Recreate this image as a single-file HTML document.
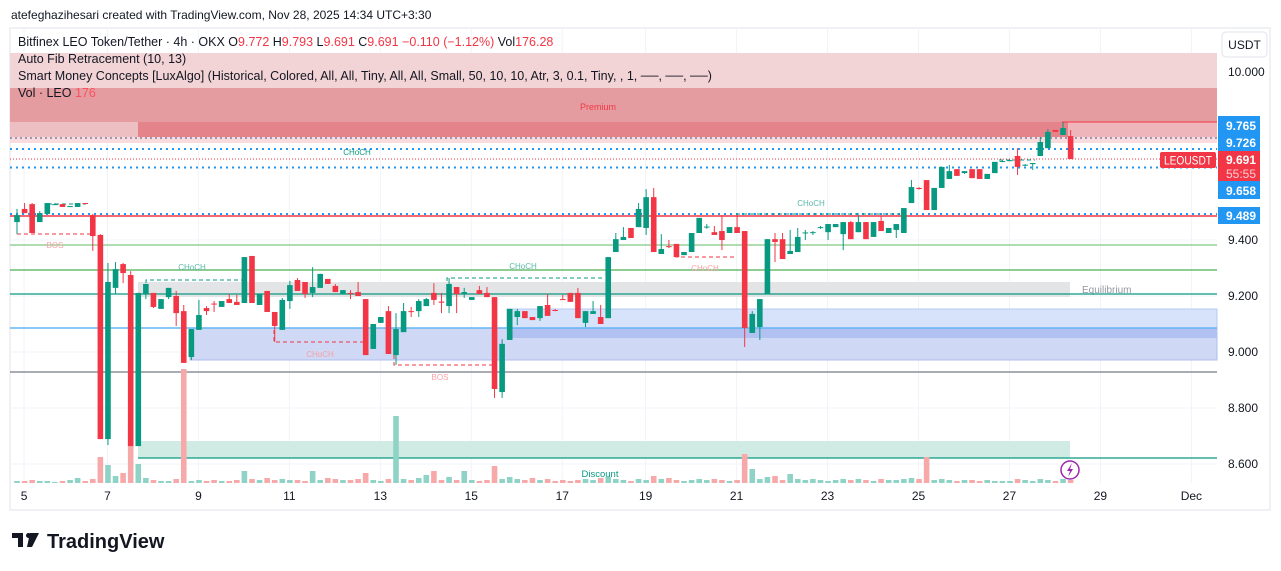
<!DOCTYPE html>
<html><head><meta charset="utf-8"><style>
html,body{margin:0;padding:0;background:#fff;}
svg{display:block;font-family:"Liberation Sans",sans-serif;}
</style></head><body>
<svg id="chart" width="1281" height="571" viewBox="0 0 1281 571" xmlns="http://www.w3.org/2000/svg">
<text x="11" y="19" font-size="12" fill="#131722">atefeghazihesari created with TradingView.com, Nov 28, 2025 14:34 UTC+3:30</text>
<rect x="10" y="28" width="1260" height="482" fill="#fff" stroke="#e0e3eb"/>
<g id="grid"></g>
<rect x="10" y="53" width="1207" height="35" fill="#f2d3d6"/>
<rect x="10" y="88" width="1207" height="34" fill="#e59ca0"/>
<rect x="10" y="122" width="128" height="15" fill="#eebfc2"/>
<rect x="138" y="122" width="930" height="15" fill="#e5838a"/>
<rect x="1068" y="122" width="149" height="15" fill="#eeb6ba"/>
<rect x="10" y="137" width="1207" height="6" fill="#f8dcde"/>
<text x="598" y="110" font-size="9" fill="#f23645" text-anchor="middle">Premium</text>
<line x1="1062" y1="122" x2="1217" y2="122" stroke="#f23645" stroke-width="1"/>
<rect x="138" y="282" width="932" height="15" fill="#e3e4e6"/>
<text x="1082" y="293" font-size="10" fill="#9598a1">Equilibrium</text>
<rect x="190" y="328" width="1027" height="32" fill="#cfd8f4" stroke="#aebdf0" stroke-width="1"/>
<rect x="507" y="309" width="710" height="19" fill="#d6e3fb" stroke="#b5c8f5"/>
<rect x="507" y="328" width="710" height="10" fill="#b1c1f1"/>
<rect x="138" y="441" width="932" height="17" fill="#d0ebe4"/>
<text x="600" y="477" font-size="9.5" fill="#089981" text-anchor="middle">Discount</text>
<line x1="10" y1="138" x2="1217" y2="138" stroke="#7b7fa8" stroke-width="1.5" stroke-dasharray="2 3"/>
<line x1="10" y1="149" x2="1217" y2="149" stroke="#2196f3" stroke-width="2" stroke-dasharray="2 4"/>
<line x1="10" y1="159" x2="1217" y2="159" stroke="#f23645" stroke-width="1" stroke-dasharray="1 2"/>
<line x1="10" y1="167.5" x2="1217" y2="167.5" stroke="#2196f3" stroke-width="2" stroke-dasharray="2 4"/>
<line x1="10" y1="214" x2="1217" y2="214" stroke="#2196f3" stroke-width="2" stroke-dasharray="2 4"/>
<line x1="10" y1="216" x2="1217" y2="216" stroke="#f23645" stroke-width="1.5"/>
<line x1="10" y1="245" x2="1217" y2="245" stroke="#81c784" stroke-width="1.2"/>
<line x1="10" y1="270" x2="1217" y2="270" stroke="#4caf50" stroke-width="1.2"/>
<line x1="10" y1="294" x2="1217" y2="294" stroke="#089981" stroke-width="1.2"/>
<line x1="10" y1="328" x2="1217" y2="328" stroke="#64b5f6" stroke-width="1.5"/>
<line x1="10" y1="372" x2="1217" y2="372" stroke="#787b86" stroke-width="1.2"/>
<line x1="138" y1="458" x2="1217" y2="458" stroke="#089981" stroke-width="1.2"/>
<g font-size="8" text-anchor="middle">
<polyline points="17,234 93,234" fill="none" stroke="#f23645" stroke-dasharray="4 3"/>
<text x="55" y="248" fill="#f7a1a7">BOS</text>
<polyline points="146,290 146,280 244,280" fill="none" stroke="#089981" stroke-dasharray="4 3"/>
<text x="192" y="270" fill="#5bb8a8">CHoCH</text>
<polyline points="274,330 274,342 364,342" fill="none" stroke="#f23645" stroke-dasharray="4 3"/>
<text x="320" y="357" fill="#f7a1a7">CHoCH</text>
<polyline points="394,355 394,365 492,365" fill="none" stroke="#f23645" stroke-dasharray="4 3"/>
<text x="440" y="380" fill="#f7a1a7">BOS</text>
<polyline points="447,288 447,278 605,278" fill="none" stroke="#089981" stroke-dasharray="4 3"/>
<text x="523" y="269" fill="#5bb8a8">CHoCH</text>
<polyline points="676,248 676,257 736,257" fill="none" stroke="#f23645" stroke-dasharray="4 3"/>
<text x="705" y="271" fill="#f7a1a7">CHoCH</text>
<polyline points="736,214 900,214" fill="none" stroke="#089981" stroke-dasharray="4 3"/>
<text x="811" y="206" fill="#5bb8a8">CHoCH</text>
<text x="357" y="155" fill="#089981">CHoCH</text>
<polyline points="48,204 86,204" fill="none" stroke="#089981" stroke-dasharray="4 3"/>
<polyline points="999,160 1035,160" fill="none" stroke="#089981" stroke-dasharray="4 3"/>
</g>
<g id="volume"></g>
<g id="candles"></g>
<g font-size="12.5" fill="#131722">
<text x="18" y="46">Bitfinex LEO Token/Tether · 4h · OKX  O<tspan fill="#f23645">9.772</tspan>  H<tspan fill="#f23645">9.793</tspan>  L<tspan fill="#f23645">9.691</tspan>  C<tspan fill="#f23645">9.691</tspan>  <tspan fill="#f23645">−0.110 (−1.12%)</tspan>  Vol<tspan fill="#f23645">176.28</tspan></text>
<text x="18" y="63">Auto Fib Retracement (10, 13)</text>
<text x="18" y="80">Smart Money Concepts [LuxAlgo] (Historical, Colored, All, All, Tiny, All, All, Small, 50, 10, 10, Atr, 3, 0.1, Tiny, , 1, ──, ──, ──)</text>
<text x="18" y="97">Vol · LEO  <tspan fill="#f7525f">176</tspan></text>
</g>
<rect x="1222" y="32" width="45" height="25" rx="4" fill="#fff" stroke="#e0e3eb"/>
<text x="1244.5" y="49" font-size="12" text-anchor="middle" fill="#131722">USDT</text>
<g id="yticks" font-size="12" fill="#131722"></g>
<g font-size="11.5" font-weight="bold" fill="#fff">
<rect x="1218" y="116" width="42" height="18" fill="#2196f3"/><text x="1226" y="130" textLength="30" lengthAdjust="spacingAndGlyphs">9.765</text>
<rect x="1218" y="134" width="42" height="17" fill="#2196f3"/><text x="1226" y="147" textLength="30" lengthAdjust="spacingAndGlyphs">9.726</text>
<rect x="1160" y="152" width="56" height="16" rx="2" fill="#f23645"/><text x="1164" y="164.5" font-weight="normal" textLength="48" lengthAdjust="spacingAndGlyphs">LEOUSDT</text>
<rect x="1218" y="151" width="42" height="30" fill="#f23645"/><text x="1226" y="164" textLength="30" lengthAdjust="spacingAndGlyphs">9.691</text><text x="1226" y="178" font-weight="normal" fill="#fbd0d4" textLength="30" lengthAdjust="spacingAndGlyphs">55:55</text>
<rect x="1218" y="181" width="42" height="18" fill="#2196f3"/><text x="1226" y="195" textLength="30" lengthAdjust="spacingAndGlyphs">9.658</text>
<rect x="1218" y="207" width="42" height="17" fill="#2196f3"/><text x="1226" y="220" textLength="30" lengthAdjust="spacingAndGlyphs">9.489</text>
</g>
<g id="xticks" font-size="12" fill="#131722"></g>
<g><circle cx="1070" cy="470" r="9" fill="#fff" stroke="#9c27b0" stroke-width="1.5"/><path d="M1072,463 L1067,471 L1070,471 L1068,477 L1073,469 L1070,469 Z" fill="#9c27b0"/></g>
<g>
<path d="M12,533 h11 v14 h-5 v-9 h-6 z" fill="#131722"/>
<path d="M30,533 h9 l-7,14 h-5 z" fill="#131722"/>
<circle cx="28.5" cy="535.5" r="2.5" fill="#131722"/>
<text x="47" y="548" font-size="20" font-weight="bold" fill="#131722">TradingView</text>
</g>
</svg>
<script>
const opens=[9.464,9.511,9.528,9.464,9.493,9.525,9.528,9.520,9.518,9.532,9.489,9.418,8.689,9.229,9.314,9.275,8.664,9.207,9.211,9.154,9.196,9.200,9.146,8.982,9.079,9.157,9.173,9.161,9.189,9.179,9.175,9.343,9.168,9.218,9.143,9.079,9.182,9.257,9.250,9.211,9.229,9.261,9.236,9.207,9.211,9.214,9.189,9.011,9.104,9.146,8.989,9.071,9.146,9.146,9.164,9.211,9.180,9.164,9.232,9.209,9.186,9.221,9.211,9.196,8.857,9.043,9.125,9.146,9.125,9.121,9.168,9.150,9.189,9.211,9.211,9.104,9.136,9.125,9.121,9.357,9.400,9.443,9.446,9.443,9.553,9.350,9.378,9.386,9.346,9.357,9.425,9.446,9.428,9.432,9.425,9.446,9.432,9.068,9.089,9.207,9.403,9.403,9.350,9.357,9.425,9.425,9.445,9.428,9.446,9.421,9.464,9.428,9.464,9.411,9.468,9.425,9.436,9.425,9.532,9.586,9.614,9.507,9.586,9.618,9.653,9.639,9.653,9.653,9.618,9.639,9.680,9.683,9.700,9.668,9.671,9.700,9.728,9.793,9.775,9.771];
const highs=[9.511,9.532,9.532,9.503,9.532,9.532,9.528,9.521,9.532,9.532,9.493,9.421,9.318,9.321,9.318,9.289,9.211,9.243,9.211,9.189,9.229,9.218,9.168,9.082,9.186,9.164,9.182,9.182,9.207,9.204,9.339,9.343,9.207,9.218,9.143,9.193,9.254,9.264,9.250,9.303,9.279,9.261,9.243,9.221,9.221,9.250,9.189,9.100,9.125,9.164,9.139,9.175,9.161,9.189,9.193,9.246,9.211,9.264,9.232,9.229,9.196,9.236,9.232,9.196,9.046,9.154,9.154,9.146,9.125,9.164,9.207,9.154,9.204,9.211,9.229,9.146,9.182,9.168,9.339,9.425,9.446,9.443,9.532,9.582,9.586,9.421,9.400,9.386,9.357,9.425,9.479,9.457,9.450,9.489,9.446,9.489,9.432,9.146,9.189,9.403,9.425,9.425,9.436,9.443,9.436,9.432,9.450,9.457,9.457,9.464,9.468,9.489,9.464,9.464,9.486,9.443,9.457,9.514,9.614,9.589,9.614,9.586,9.661,9.668,9.653,9.646,9.653,9.653,9.636,9.679,9.684,9.686,9.728,9.671,9.675,9.768,9.796,9.793,9.821,9.793];
const lows=[9.421,9.496,9.425,9.464,9.493,9.525,9.518,9.518,9.518,9.528,9.361,8.689,8.668,9.207,9.246,8.664,8.664,9.189,9.157,9.154,9.189,9.093,8.961,8.971,9.079,9.132,9.143,9.161,9.175,9.168,9.175,9.175,9.168,9.143,9.036,9.079,9.154,9.218,9.193,9.196,9.229,9.243,9.214,9.207,9.189,9.200,8.989,9.011,9.104,8.993,8.954,9.071,9.125,9.125,9.164,9.168,9.139,9.139,9.139,9.193,9.186,9.207,9.196,8.836,8.836,9.043,9.096,9.121,9.114,9.111,9.129,9.146,9.186,9.179,9.121,9.089,9.136,9.100,9.121,9.357,9.400,9.407,9.446,9.418,9.357,9.350,9.371,9.339,9.346,9.357,9.425,9.440,9.418,9.364,9.425,9.425,9.018,9.068,9.043,9.207,9.321,9.332,9.350,9.357,9.400,9.418,9.440,9.400,9.446,9.364,9.403,9.428,9.403,9.411,9.432,9.425,9.407,9.425,9.532,9.580,9.507,9.507,9.586,9.618,9.629,9.636,9.621,9.618,9.618,9.639,9.678,9.682,9.632,9.664,9.650,9.700,9.728,9.786,9.775,9.689];
const closes=[9.489,9.496,9.425,9.496,9.532,9.528,9.518,9.521,9.532,9.530,9.414,8.689,9.250,9.296,9.282,8.664,9.211,9.243,9.161,9.189,9.229,9.139,8.961,9.082,9.132,9.146,9.170,9.182,9.175,9.168,9.339,9.175,9.207,9.143,9.093,9.186,9.239,9.218,9.207,9.232,9.279,9.243,9.214,9.221,9.209,9.200,8.989,9.100,9.125,8.993,9.082,9.146,9.143,9.182,9.189,9.186,9.176,9.243,9.207,9.214,9.196,9.207,9.196,8.868,9.029,9.154,9.146,9.121,9.114,9.164,9.129,9.148,9.186,9.179,9.121,9.146,9.146,9.100,9.339,9.403,9.411,9.407,9.511,9.553,9.357,9.368,9.376,9.339,9.357,9.425,9.479,9.448,9.418,9.400,9.446,9.425,9.086,9.136,9.189,9.403,9.393,9.332,9.361,9.411,9.427,9.428,9.446,9.457,9.457,9.464,9.403,9.464,9.403,9.464,9.432,9.443,9.457,9.514,9.589,9.582,9.507,9.586,9.661,9.646,9.629,9.646,9.621,9.618,9.636,9.679,9.682,9.685,9.661,9.669,9.675,9.750,9.786,9.786,9.800,9.689];
const volumes=[20,20,30,20,20,10,20,30,50,20,40,260,180,70,100,580,190,50,30,20,20,40,1140,20,30,20,30,20,20,30,120,40,30,50,30,40,30,30,20,120,30,50,40,30,30,40,100,30,20,40,670,40,30,50,80,120,30,60,30,120,30,20,30,170,40,60,40,30,50,30,40,20,30,20,30,40,30,50,60,40,30,20,40,30,70,40,50,30,20,30,40,30,40,30,20,30,290,140,40,60,70,30,90,40,30,40,30,20,30,40,30,40,30,20,40,30,30,40,50,40,260,30,40,30,20,30,30,20,30,20,20,20,40,30,20,40,30,20,40,30];
const priceTicks=[10.0,9.4,9.2,9.0,8.8,8.6];
const dayLabels=["5","7","9","11","13","15","17","19","21","23","25","27","29","Dec"];
const dayIndex=[1,12,24,36,48,60,72,83,95,107,119,131,143,155];

const NS="http://www.w3.org/2000/svg";
const X0=17, STEP=7.58;
const xScale=i=>X0+i*STEP;
const yScale=p=>72+(10-p)*280;
const VBASE=483, VSCALE=0.1;
function mk(tag,attrs,parent){const e=document.createElementNS(NS,tag);for(const k in attrs)e.setAttribute(k,attrs[k]);parent.appendChild(e);return e;}
const grid=document.getElementById('grid');
priceTicks.forEach(p=>{
  const l=mk('line',{x1:10,x2:1217,y1:yScale(p),y2:yScale(p),stroke:'#f0f3fa'},grid);
  
  
  const t=mk('text',{x:1228,y:yScale(p)+4},document.getElementById('yticks'));
  
  
  t.textContent=p.toFixed(3);
});
dayLabels.forEach((d,k)=>{
  const x=xScale(dayIndex[k])-0.5;
  const l=mk('line',{x1:x,x2:x,y1:28,y2:483,stroke:'#f0f3fa'},grid);
  
  
  const t=mk('text',{x:x,y:500,'text-anchor':'middle'},document.getElementById('xticks'));
  
  
  t.textContent=d;
});
const vg=document.getElementById('volume'), cg=document.getElementById('candles');
for(let i=0;i<opens.length;i++){
  const up=closes[i]>=opens[i];
  const x=xScale(i);
  const h=volumes[i]*VSCALE;
  const v=mk('rect',{x:x-2.8,y:VBASE-h,width:5.6,height:h,fill:up?'#8fd3c7':'#f7a9a9'},vg);
  
  
  const col=up?'#089981':'#f23645';
  const w=mk('line',{x1:x,x2:x,y1:yScale(highs[i]),y2:yScale(lows[i]),stroke:col,'stroke-width':1},cg);
  
  
  const top=yScale(Math.max(opens[i],closes[i])), bot=yScale(Math.min(opens[i],closes[i]));
  const b=mk('rect',{x:x-2.8,y:top,width:5.6,height:Math.max(1,bot-top),fill:col},cg);
  
  
}
</script>
</body></html>
